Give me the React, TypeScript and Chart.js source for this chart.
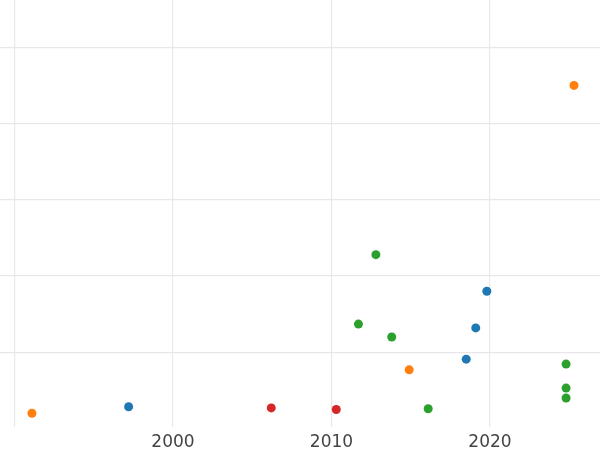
import React, { useEffect, useRef } from "react";
import { Chart, registerables } from "chart.js";

Chart.register(...registerables);

const xTicks = [1990, 2000, 2010, 2020];
const yTicks = [1, 2, 3, 4, 5];

const blueX = [1997.2, 2018.5, 2019.1, 2019.8];
const blueY = [0.285, 0.91, 1.32, 1.8];

const orangeX = [1991.1, 2014.9, 2025.3];
const orangeY = [0.2, 0.77, 4.5];

const greenX = [2011.7, 2012.8, 2013.8, 2016.1, 2024.8, 2024.8, 2024.8];
const greenY = [1.37, 2.28, 1.2, 0.26, 0.845, 0.53, 0.4];

const redX = [2006.2, 2010.3];
const redY = [0.27, 0.25];

const toPoints = (xs: number[], ys: number[]) => xs.map((x, i) => ({ x, y: ys[i] }));

export default function App() {
  const ref = useRef<HTMLCanvasElement>(null);
  useEffect(() => {
    if (!ref.current) return;
    const mk = (label: string, xs: number[], ys: number[], color: string) => ({
      label,
      data: toPoints(xs, ys),
      backgroundColor: color,
      borderColor: color,
      borderWidth: 0,
      pointRadius: 4.5,
    });
    const chart = new Chart(ref.current, {
      type: "scatter",
      data: {
        datasets: [
          mk("Blue", blueX, blueY, "#1f77b4"),
          mk("Orange", orangeX, orangeY, "#ff7f0e"),
          mk("Green", greenX, greenY, "#2ca02c"),
          mk("Red", redX, redY, "#d62728"),
        ],
      },
      options: {
        animation: false,
        responsive: true,
        maintainAspectRatio: false,
        layout: { padding: 0, autoPadding: false },
        plugins: { legend: { display: false }, tooltip: { enabled: false } },
        scales: {
          x: {
            type: "linear",
            min: 1989.085,
            max: 2026.94,
            afterBuildTicks: (s: any) => {
              s.ticks = xTicks.map((v) => ({ value: v }));
            },
            afterFit: (s: any) => {
              s.height = 23;
            },
            border: { display: false },
            grid: { color: "#e8e8e8", lineWidth: 1.2, drawTicks: false, tickLength: 0 },
            ticks: {
              padding: 5,
              color: "#444444",
              font: { family: "DejaVu Sans", size: 17 },
              maxRotation: 0,
              autoSkip: false,
              callback: (v: any) => (v === 1990 ? "" : String(v)),
            },
          },
          y: {
            type: "linear",
            min: 0.02,
            max: 5.62,
            afterBuildTicks: (s: any) => {
              s.ticks = yTicks.map((v) => ({ value: v }));
            },
            afterFit: (s: any) => {
              s.width = 0;
            },
            border: { display: false },
            grid: { color: "#e8e8e8", lineWidth: 1.2, drawTicks: false, tickLength: 0 },
            ticks: { display: false },
          },
        },
      },
    });
    return () => chart.destroy();
  }, []);
  return (
    <div style={{ position: "absolute", left: 0, top: 0, width: 600, height: 450 }}>
      <canvas ref={ref} />
    </div>
  );
}
